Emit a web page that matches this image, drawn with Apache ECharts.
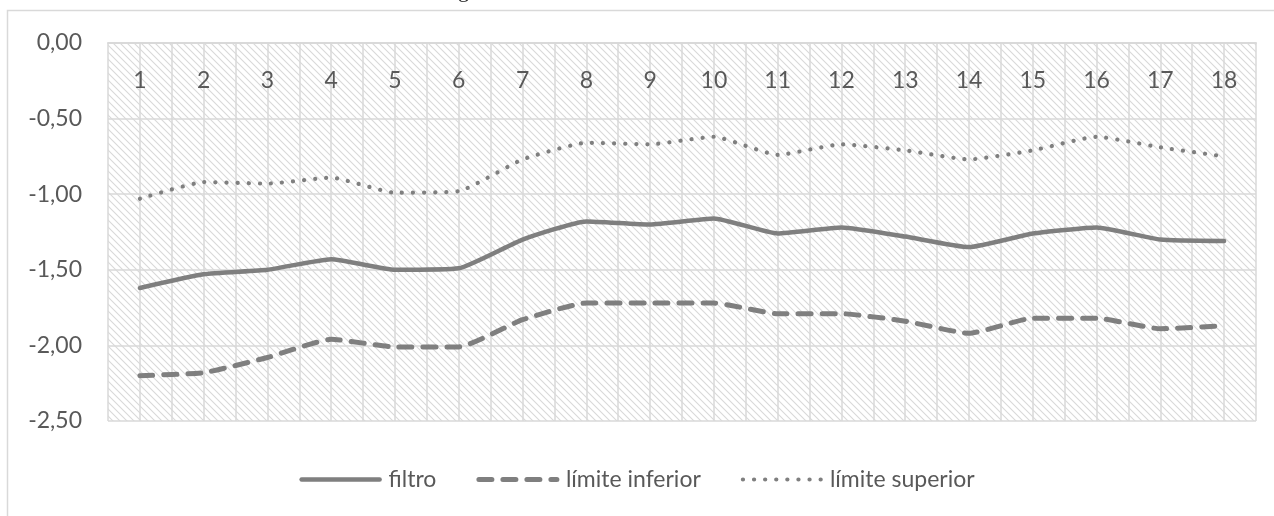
<!DOCTYPE html>
<html>
<head>
<meta charset="utf-8">
<script src="https://cdn.jsdelivr.net/npm/echarts@6/dist/echarts.min.js"></script>
<style>
  html, body { margin: 0; padding: 0; background: #ffffff; }
  #chart { width: 1274px; height: 516px; }
</style>
</head>
<body>
<div id="chart"></div>
<script>
// Periods on the category axis
const categories = ['1','2','3','4','5','6','7','8','9','10','11','12','13','14','15','16','17','18'];

// Filtered estimate and its confidence band
const filtro = [-1.62, -1.53, -1.50, -1.43, -1.50, -1.49, -1.30, -1.18, -1.20, -1.16, -1.26, -1.22, -1.28, -1.35, -1.26, -1.22, -1.30, -1.31];
const limiteInferior = [-2.20, -2.18, -2.08, -1.96, -2.01, -2.01, -1.83, -1.72, -1.72, -1.72, -1.79, -1.79, -1.84, -1.92, -1.82, -1.82, -1.89, -1.87];
const limiteSuperior = [-1.03, -0.92, -0.93, -0.89, -0.99, -0.98, -0.77, -0.66, -0.67, -0.62, -0.74, -0.67, -0.71, -0.77, -0.71, -0.62, -0.69, -0.75];

const seriesNames = ['filtro', 'límite inferior', 'límite superior'];

const INK = '#7f7f7f';
const TEXT = '#595959';
const GRID = '#d9d9d9';
const FONT = 'Lato, "Open Sans", sans-serif';
const FONT_SIZE = 23;

// Line styles shared by the plotted series and their legend keys
const styleFiltro = { color: INK, width: 4.5, type: 'solid', cap: 'round', join: 'round' };
const styleInferior = { color: INK, width: 5, type: [13, 11], cap: 'round', join: 'round' };
const styleSuperior = { color: INK, width: 4.2, type: [0.1, 11], cap: 'round', join: 'round' };

// Diagonal hatch fill for the plot area
function hatchPattern() {
  const s = 7;
  const c = document.createElement('canvas');
  c.width = s; c.height = s;
  const g = c.getContext('2d');
  g.fillStyle = '#ffffff';
  g.fillRect(0, 0, s, s);
  g.strokeStyle = '#d9d9d9';
  g.lineWidth = 1.1;
  g.beginPath();
  g.moveTo(-1, -1); g.lineTo(s + 1, s + 1);
  g.moveTo(-1, s - 1); g.lineTo(1, s + 1);
  g.moveTo(s - 1, -1); g.lineTo(s + 1, 1);
  g.stroke();
  return { image: c, repeat: 'repeat' };
}

const fmt = v => v.toFixed(2).replace('.', ',');

const chart = echarts.init(document.getElementById('chart'), null, { renderer: 'canvas' });

chart.setOption({
  animation: false,
  backgroundColor: '#ffffff',
  graphic: [
    {
      type: 'rect',
      shape: { x: 7.5, y: 10.5, width: 1400, height: 600 },
      style: { fill: 'none', stroke: GRID, lineWidth: 1.5 },
      silent: true, z: -10
    },
    {
      type: 'text',
      left: 458, top: -20,
      style: { text: 'g', font: '22px "Liberation Serif", serif', fill: '#222222' },
      silent: true
    }
  ],
  grid: {
    left: 108, right: 18, top: 43, bottom: 95,
    show: true,
    borderWidth: 0,
    backgroundColor: hatchPattern()
  },
  legend: {
    bottom: 20,
    left: 'center',
    itemWidth: 78,
    itemHeight: 14,
    itemGap: 40,
    itemStyle: { opacity: 0 },
    data: [
      { name: seriesNames[0], lineStyle: styleFiltro },
      { name: seriesNames[1], lineStyle: styleInferior },
      { name: seriesNames[2], lineStyle: styleSuperior }
    ],
    textStyle: { color: TEXT, fontSize: FONT_SIZE, fontFamily: FONT, padding: [0, 0, 0, 4] }
  },
  xAxis: [
    {
      type: 'category',
      data: categories,
      position: 'top',
      boundaryGap: true,
      axisLine: { show: true, lineStyle: { color: GRID, width: 2 } },
      axisTick: { show: false },
      splitLine: { show: false },
      axisLabel: {
        inside: true, margin: 26,
        color: TEXT, fontSize: FONT_SIZE, fontFamily: FONT
      }
    },
    {
      // Half-category grid lines
      type: 'value',
      min: 0, max: 36, interval: 1,
      position: 'bottom',
      show: true,
      axisLine: { show: false },
      axisTick: { show: false },
      axisLabel: { show: false },
      splitLine: { show: true, lineStyle: { color: GRID, width: 1.5 } }
    }
  ],
  yAxis: {
    type: 'value',
    min: -2.5, max: 0, interval: 0.5,
    axisLine: { show: false },
    axisTick: { show: false },
    splitLine: { show: true, lineStyle: { color: GRID, width: 1.5 } },
    axisLabel: {
      margin: 26, color: TEXT, fontSize: FONT_SIZE, fontFamily: FONT,
      formatter: fmt
    }
  },
  series: [
    {
      name: seriesNames[0], type: 'line', data: filtro,
      xAxisIndex: 0, symbol: 'none', smooth: 0.15,
      lineStyle: styleFiltro, itemStyle: { color: INK }
    },
    {
      name: seriesNames[1], type: 'line', data: limiteInferior,
      xAxisIndex: 0, symbol: 'none', smooth: 0.15,
      lineStyle: styleInferior, itemStyle: { color: INK }
    },
    {
      name: seriesNames[2], type: 'line', data: limiteSuperior,
      xAxisIndex: 0, symbol: 'none', smooth: 0.15,
      lineStyle: styleSuperior, itemStyle: { color: INK }
    }
  ]
});
</script>
</body>
</html>
